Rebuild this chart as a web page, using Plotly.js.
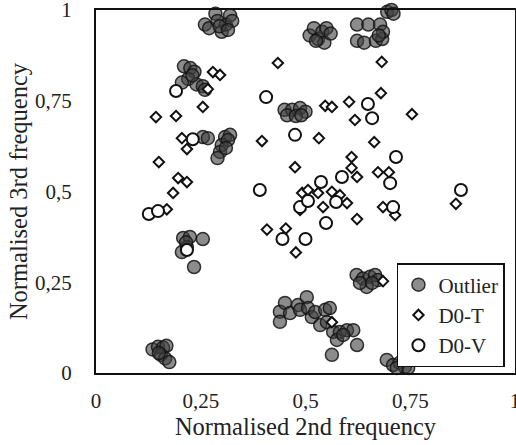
<!DOCTYPE html>
<html>
<head>
<meta charset="utf-8">
<script src="https://cdn.plot.ly/plotly-3.0.1.min.js"></script>
<style>html,body{margin:0;padding:0;background:#fff;}#chart{width:516px;height:445px;}</style>
</head>
<body>
<div id="chart"></div>
<script>
const outlierX = [0.26,0.27,0.285,0.29,0.30,0.31,0.32,0.325,0.295,0.315,
  0.51,0.52,0.53,0.54,0.545,0.55,0.56,0.525,
  0.695,0.705,0.71,0.623,0.65,0.678,0.623,0.64,0.668,0.683,0.685,0.675,
  0.21,0.225,0.235,0.22,0.205,0.24,0.255,0.26,0.23,
  0.255,0.267,0.308,0.32,0.30,0.296,0.29,0.315,0.31,
  0.45,0.468,0.487,0.50,0.456,0.477,0.49,
  0.208,0.224,0.255,0.205,0.217,0.234,0.215,
  0.135,0.148,0.16,0.168,0.155,0.165,0.175,0.15,
  0.439,0.439,0.451,0.463,0.482,0.487,0.503,0.506,0.515,0.523,0.535,0.547,0.558,0.551,0.566,0.582,0.599,0.614,0.623,0.563,0.575,0.59,
  0.622,0.637,0.654,0.666,0.673,0.646,0.63,0.659,
  0.694,0.709,0.725,0.737,0.745,0.718];
const outlierY = [0.96,0.95,0.99,0.97,0.94,0.96,0.985,0.97,0.955,0.945,
  0.93,0.95,0.92,0.94,0.91,0.95,0.935,0.915,
  0.995,1.0,0.99,0.96,0.96,0.96,0.915,0.91,0.915,0.92,0.94,0.93,
  0.845,0.84,0.83,0.81,0.80,0.795,0.79,0.78,0.82,
  0.65,0.647,0.65,0.656,0.628,0.609,0.592,0.642,0.62,
  0.725,0.725,0.73,0.72,0.71,0.708,0.71,
  0.372,0.375,0.369,0.333,0.347,0.292,0.36,
  0.065,0.072,0.07,0.075,0.05,0.04,0.03,0.055,
  0.169,0.141,0.193,0.165,0.187,0.174,0.209,0.179,0.154,0.168,0.132,0.174,0.179,0.140,0.113,0.113,0.118,0.118,0.077,0.05,0.091,0.105,
  0.27,0.26,0.265,0.27,0.256,0.237,0.248,0.248,
  0.036,0.022,0.028,0.017,0.014,0.014];

const d0tX = [0.434,0.279,0.296,0.267,0.255,0.143,0.191,0.205,0.217,0.396,0.150,0.475,0.196,0.217,0.184,0.492,
  0.682,0.680,0.604,0.547,0.563,0.754,0.618,0.532,0.664,0.610,0.610,0.623,0.673,0.699,0.506,0.530,0.563,0.582,
  0.685,0.714,0.859,0.169,0.408,0.453,0.477,0.599,0.542,0.487,0.623,0.563,0.685];
const d0tY = [0.854,0.829,0.821,0.782,0.733,0.705,0.708,0.647,0.617,0.639,0.581,0.567,0.537,0.526,0.496,0.496,
  0.857,0.771,0.747,0.736,0.733,0.713,0.697,0.647,0.636,0.595,0.565,0.540,0.553,0.553,0.504,0.496,0.499,0.490,
  0.457,0.435,0.466,0.451,0.395,0.398,0.332,0.468,0.457,0.449,0.424,0.140,0.253];

const d0vX = [0.191,0.406,0.231,0.475,0.391,0.649,0.659,0.716,0.587,0.537,0.702,0.871,
  0.126,0.148,0.487,0.445,0.500,0.217,0.506,0.573,0.549,0.709];
const d0vY = [0.777,0.760,0.644,0.656,0.504,0.741,0.702,0.595,0.540,0.526,0.523,0.504,
  0.438,0.446,0.457,0.369,0.369,0.339,0.474,0.471,0.413,0.457];

const seriesNames = ['Outlier','D0-T','D0-V'];
const xTickVals = [0,0.25,0.5,0.75,1];
const xTickText = ['0','0,25','0,5','0,75','1'];
const yTickVals = [0,0.25,0.5,0.75,1];
const yTickText = ['0','0,25','0,5','0,75','1'];

const FONT = '"Liberation Serif", "Times New Roman", serif';

const traces = [
  {x: outlierX, y: outlierY, name: seriesNames[0], type: 'scatter', mode: 'markers', cliponaxis: false,
   marker: {symbol: 'circle', size: 13, color: 'rgba(64,64,64,0.6)', line: {color: 'rgba(20,20,20,0.85)', width: 1.5}}},
  {x: d0tX, y: d0tY, name: seriesNames[1], type: 'scatter', mode: 'markers', cliponaxis: false,
   marker: {symbol: 'diamond', size: 8, color: '#ffffff', line: {color: '#111', width: 2}}},
  {x: d0vX, y: d0vY, name: seriesNames[2], type: 'scatter', mode: 'markers', cliponaxis: false,
   marker: {symbol: 'circle', size: 12, color: '#ffffff', line: {color: '#111', width: 2}}}
];

const layout = {
  width: 516, height: 445,
  margin: {l: 96, r: 1, t: 10, b: 72},
  paper_bgcolor: '#fff', plot_bgcolor: '#fff',
  font: {family: FONT, size: 21, color: '#222'},
  showlegend: true,
  legend: {x: 0.976, y: 0.303, xanchor: 'right', yanchor: 'top', bgcolor: '#fff',
    bordercolor: '#111', borderwidth: 1.5, font: {family: FONT, size: 21, color: '#222'},
    itemwidth: 30, tracegroupgap: 0},
  xaxis: {range: [0, 1], tickvals: xTickVals, ticktext: xTickText, showgrid: false, zeroline: false,
    showline: true, linecolor: '#111', linewidth: 2, mirror: true, ticks: '', ticklabelstandoff: 8,
    ticklabeloverflow: 'allow',
    tickfont: {family: FONT, size: 21, color: '#222'},
    title: {text: 'Normalised 2nd frequency', standoff: 2, font: {family: FONT, size: 24.5, color: '#222'}}},
  yaxis: {range: [0, 1], tickvals: yTickVals, ticktext: yTickText, showgrid: false, zeroline: false,
    showline: true, linecolor: '#111', linewidth: 2, mirror: true, ticks: '', ticklabelstandoff: 18,
    ticklabeloverflow: 'allow',
    tickfont: {family: FONT, size: 21, color: '#222'},
    title: {text: 'Normalised 3rd frequency', standoff: 0, font: {family: FONT, size: 24.5, color: '#222'}}}
};

Plotly.newPlot('chart', traces, layout, {displayModeBar: false, staticPlot: true});
</script>
</body>
</html>
